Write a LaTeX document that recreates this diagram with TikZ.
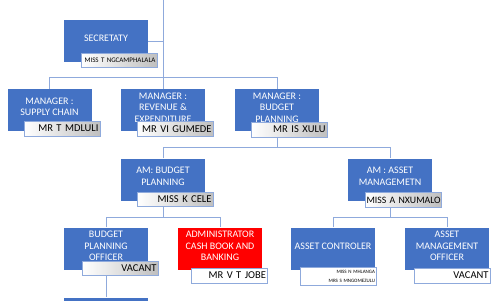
\documentclass[tikz,border=0pt]{standalone}
\usepackage{fontspec}
\setmainfont{Carlito}
\usetikzlibrary{backgrounds,calc}
\definecolor{boxblue}{HTML}{4472C4}
\definecolor{linkblue}{HTML}{8FAADC}
\definecolor{tagedge}{HTML}{8FAADC}
\begin{document}
\begin{tikzpicture}[x=1pt,y=-1pt,
  box/.style={fill=boxblue, draw=none, minimum width=84pt, minimum height=42pt, inner sep=0pt},
  redbox/.style={box, fill=red},
  btxt/.style={text=white, font=\fontsize{10}{11.5}\selectfont, align=center, inner sep=0pt},
  tagbase/.style={draw=tagedge, line width=0.8pt, minimum height=15pt, inner ysep=0pt, inner xsep=1.5pt, text width=73pt, align=right, font=\fontsize{10.5}{12}\selectfont},
  tag/.style={tagbase, left color=white, right color=gray!50},
  wtag/.style={tagbase, fill=white},
  link/.style={draw=linkblue, line width=1pt}]
\useasboundingbox (0,0) rectangle (500,300);
\clip (0,0) rectangle (500,300);
% boxes
\node[box] (sec) at (106,41) {};
\node[box] (sc) at (49.5,110) {};
\node[box] (rev) at (163,110) {};
\node[box] (bud) at (277,110) {};
\node[box] (amb) at (163,179.5) {};
\node[box] (ama) at (390,179.5) {};
\node[box] (bpo) at (106,248.5) {};
\node[redbox] (adm) at (220,248.5) {};
\node[box] (ac) at (333,248.5) {};
\node[box] (amo) at (447,248.5) {};
\node[box] (bot) at (106,318.5) {};
% box texts
\node[btxt] (secX) at ([yshift=3pt]sec.center) {SECRETATY};
\node[btxt] (scX) at ([yshift=3pt]sc.center) {MANAGER :\\SUPPLY CHAIN};
\node[btxt] (revX) at ([yshift=2.5pt]rev.center) {MANAGER :\\REVENUE \&\\EXPENDITURE};
\node[btxt] (budX) at ([yshift=2.5pt]bud.center) {MANAGER :\\BUDGET\\PLANNING};
\node[btxt] (ambX) at ([yshift=3pt]amb.center) {AM: BUDGET\\PLANNING};
\node[btxt] (amaX) at ([yshift=3pt]ama.center) {AM : ASSET\\MANAGEMETN};
\node[btxt] (bpoX) at ([yshift=2.5pt]bpo.center) {BUDGET\\PLANNING\\OFFICER};
\node[btxt] (admX) at ([yshift=2.5pt]adm.center) {ADMINISTRATOR\\CASH BOOK AND\\BANKING};
\node[btxt] (acX) at ([yshift=2.5pt]ac.center) {ASSET CONTROLER};
\node[btxt] (amoX) at ([yshift=2.5pt]amo.center) {ASSET\\MANAGEMENT\\OFFICER};
% name tags
\node[tag, minimum height=14pt, font=\fontsize{7}{8}\selectfont] (secT) at (119,60) {MISS T NGCAMPHALALA};
\node[tag] (scT) at (62,128.5) {MR T MDLULI};
\node[tag] (revT) at (175,129) {MR VI GUMEDE};
\node[tag] (budT) at (289,129.5) {MR IS XULU};
\node[tag, minimum height=14pt] (ambT) at (175,199.5) {MISS K CELE};
\node[tag, font=\fontsize{9.8}{12}\selectfont] (amaT) at (403,200) {\mbox{MISS A NXUMALO}};
\node[tag, minimum height=14pt] (bpoT) at (120,268) {VACANT};
\node[wtag] (admT) at (229.5,275.5) {MR V T JOBE};
\node[wtag, minimum height=18pt, font=\fontsize{5}{9}\selectfont] (acT) at (338.5,276) {MISS N MHLANGA\\MRS S MNGOMEZULU};
\node[wtag] (amoT) at (452,275.5) {VACANT};
% connectors
\coordinate (top) at (163,0);
\coordinate (j1) at ($(amb.north)+(0,-11)$);
\coordinate (j2) at ($(bpo.north)+(0,-10)$);
\coordinate (j3) at ($(ac.north)+(0,-10)$);
\begin{scope}[on background layer]
\draw[link] (top) -- (rev.north);
\draw[link] (sec.east) -- (sec.east -| top);
\draw[link] (sc.north) -- ++(0,-11) -| (bud.north);
\draw[link] (bud.south) -- (bud.south |- j1);
\draw[link] (amb.north) -- (j1) -| (ama.north);
\draw[link] (amb.south) -- (amb.south |- j2);
\draw[link] (bpo.north) -- (j2) -| (adm.north);
\draw[link] (ama.south) -- (ama.south |- j3);
\draw[link] (ac.north) -- (j3) -| (amo.north);
\draw[link] (bpo.south) -- (bot.north);
\end{scope}
\end{tikzpicture}
\end{document}
